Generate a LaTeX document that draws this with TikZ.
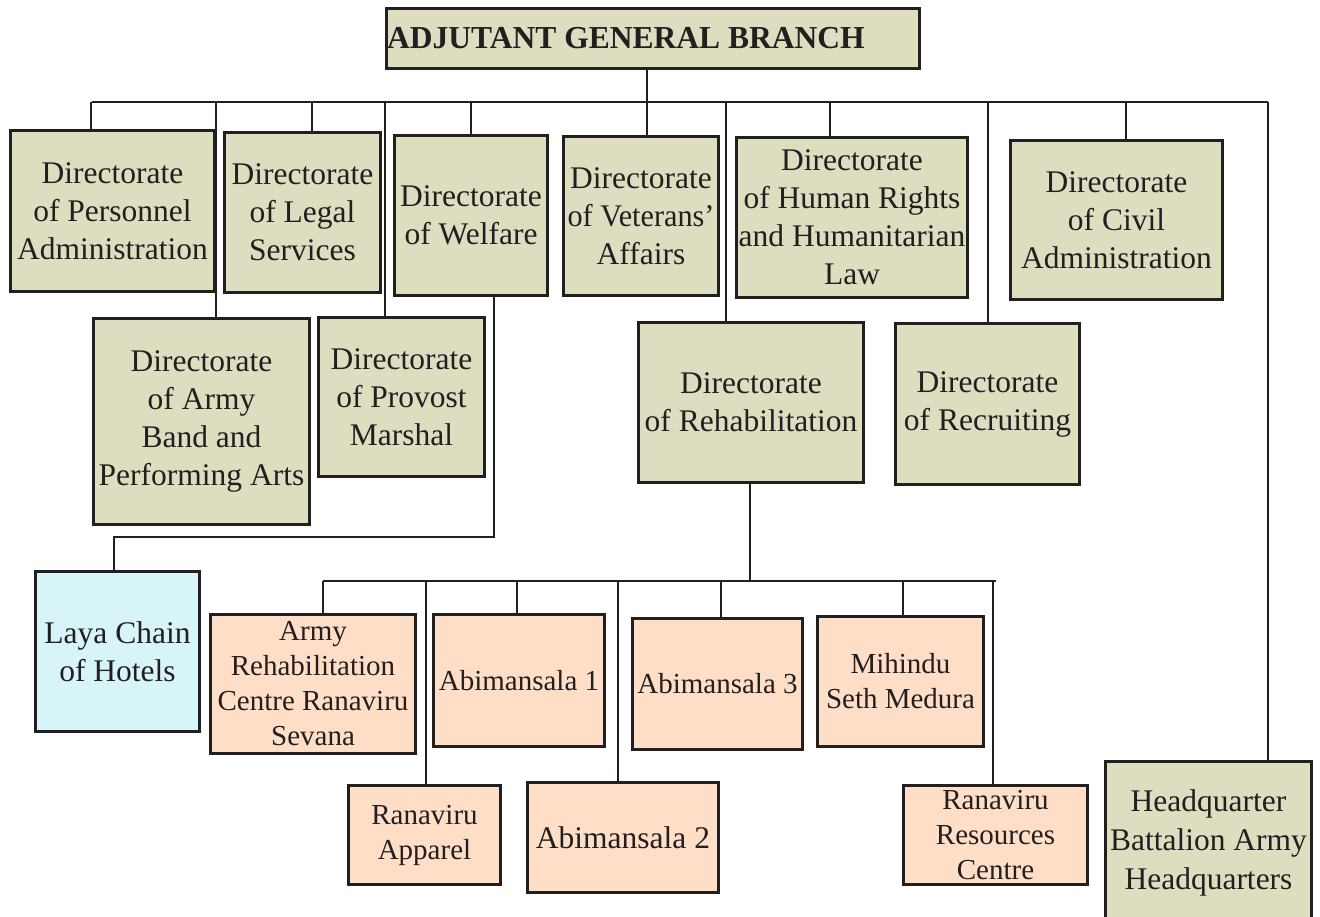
\documentclass[tikz,border=0pt]{standalone}
\usepackage{fontspec}
\setmainfont{Liberation Serif}
\definecolor{ink}{HTML}{231F20}
\definecolor{khaki}{HTML}{DEDDBF}
\definecolor{peach}{HTML}{FEDEC6}
\definecolor{sky}{HTML}{D7F5F8}
\tikzset{
  box/.style={draw=ink, line width=3pt, inner sep=0pt, align=center,
    anchor=north west, text=ink, font=\fontsize{31.5}{38}\selectfont},
  kbox/.style={box, fill=khaki},
  pbox/.style={box, fill=peach, font=\fontsize{29}{35}\selectfont},
  cbox/.style={box, fill=sky},
  link/.style={draw=ink, line width=2.5pt},
}
\begin{document}
\begin{tikzpicture}[x=1pt, y=-1pt]
\useasboundingbox (0,0) rectangle (1320,916);

% head of the branch
\node[kbox, minimum width=533pt, minimum height=60pt] (title) at (385,7) {};
\node[anchor=base west, inner sep=0pt, text=ink,
      font=\bfseries\fontsize{32}{36}\selectfont] (titletext) at (387,48)
      {\scalebox{0.985}[1]{ADJUTANT GENERAL BRANCH}};

% first row of directorates
\node[kbox, minimum width=204pt, minimum height=161pt] (pers) at (9,129)
  {Directorate\\of Personnel\\Administration};
\node[kbox, minimum width=156pt, minimum height=160pt] (legal) at (223,131)
  {Directorate\\of Legal\\Services};
\node[kbox, minimum width=153pt, minimum height=160pt] (welf) at (393,134)
  {Directorate\\of Welfare};
\node[kbox, minimum width=155pt, minimum height=159pt] (vet) at (562,135)
  {Directorate\\\scalebox{0.96}[1]{of Veterans'}\\Affairs};
\node[kbox, minimum width=231pt, minimum height=160pt] (hr) at (735,136)
  {Directorate\\of Human Rights\\and Humanitarian\\Law};
\node[kbox, minimum width=212pt, minimum height=159pt] (civil) at (1009,139)
  {Directorate\\of Civil\\Administration};

% second row of directorates
\node[kbox, minimum width=216pt, minimum height=206pt] (band) at (92,317)
  {Directorate\\of Army\\Band and\\Performing Arts};
\node[kbox, minimum width=166pt, minimum height=159pt] (prov) at (317,316)
  {Directorate\\of Provost\\Marshal};
\node[kbox, minimum width=225pt, minimum height=160pt] (rehab) at (637,321)
  {Directorate\\of Rehabilitation};
\node[kbox, minimum width=184pt, minimum height=161pt] (recr) at (894,322)
  {Directorate\\of Recruiting};

% units
\node[cbox, minimum width=164pt, minimum height=160pt] (laya) at (34,570)
  {Laya Chain\\of Hotels};
\node[pbox, minimum width=205pt, minimum height=139pt] (arc) at (209,613)
  {Army\\Rehabilitation\\Centre Ranaviru\\Sevana};
\node[pbox, minimum width=171pt, minimum height=132pt] (ab1) at (432,613)
  {Abimansala 1};
\node[pbox, minimum width=170pt, minimum height=131pt] (ab3) at (631,617)
  {Abimansala 3};
\node[pbox, minimum width=166pt, minimum height=130pt] (mih) at (816,615)
  {Mihindu\\Seth Medura};
\node[pbox, minimum width=152pt, minimum height=99pt] (app) at (347,784)
  {Ranaviru\\Apparel};
\node[pbox, minimum width=191pt, minimum height=110pt,
      font=\fontsize{31.5}{38}\selectfont] (ab2) at (526,781)
  {Abimansala 2};
\node[pbox, minimum width=184pt, minimum height=99pt] (res) at (902,784)
  {Ranaviru\\Resources\\Centre};
\node[kbox, minimum width=206pt, minimum height=162pt,
      font=\fontsize{31.5}{39}\selectfont] (hq) at (1104,760)
  {Headquarter\\Battalion Army\\Headquarters};

% main bus under the branch head
\coordinate (busL) at (92,102);
\coordinate (busR) at (1268,102);
\coordinate (bTop) at (647,102);
\coordinate (b1) at (91,102);
\coordinate (b2) at (216,102);
\coordinate (b3) at (312,102);
\coordinate (b4) at (385,102);
\coordinate (b5) at (471,102);
\coordinate (b6) at (726,102);
\coordinate (b7) at (830,102);
\coordinate (b8) at (988,102);
\coordinate (b9) at (1126,102);

\draw[link] (busL) -- (busR);
\draw[link] (bTop |- title.south) -- (bTop) -- (bTop |- vet.north);
\draw[link] (b1) -- (b1 |- pers.north);
\draw[link] (b2) -- (b2 |- band.north);
\draw[link] (b3) -- (b3 |- legal.north);
\draw[link] (b4) -- (b4 |- prov.north);
\draw[link] (b5) -- (b5 |- welf.north);
\draw[link] (b6) -- (b6 |- rehab.north);
\draw[link] (b7) -- (b7 |- hr.north);
\draw[link] (b8) -- (b8 |- recr.north);
\draw[link] (b9) -- (b9 |- civil.north);
\draw[link] (busR) -- (busR |- hq.north);

% welfare to the hotel chain
\coordinate (w1) at (494,537);
\coordinate (w2) at (114,537);
\draw[link] (w1 |- welf.south) -- (w1) -- (w2) -- (w2 |- laya.north);

% rehabilitation bus
\coordinate (rTop) at (750,581);
\coordinate (rL) at (323,581);
\coordinate (rR) at (996,581);
\coordinate (r2) at (426,581);
\coordinate (r3) at (517,581);
\coordinate (r4) at (618,581);
\coordinate (r5) at (721,581);
\coordinate (r6) at (903,581);
\coordinate (r7) at (993,581);

\draw[link] (rTop |- rehab.south) -- (rTop);
\draw[link] (rL) -- (rR);
\draw[link] (rL) -- (rL |- arc.north);
\draw[link] (r2) -- (r2 |- app.north);
\draw[link] (r3) -- (r3 |- ab1.north);
\draw[link] (r4) -- (r4 |- ab2.north);
\draw[link] (r5) -- (r5 |- ab3.north);
\draw[link] (r6) -- (r6 |- mih.north);
\draw[link] (r7) -- (r7 |- res.north);
\end{tikzpicture}
\end{document}
